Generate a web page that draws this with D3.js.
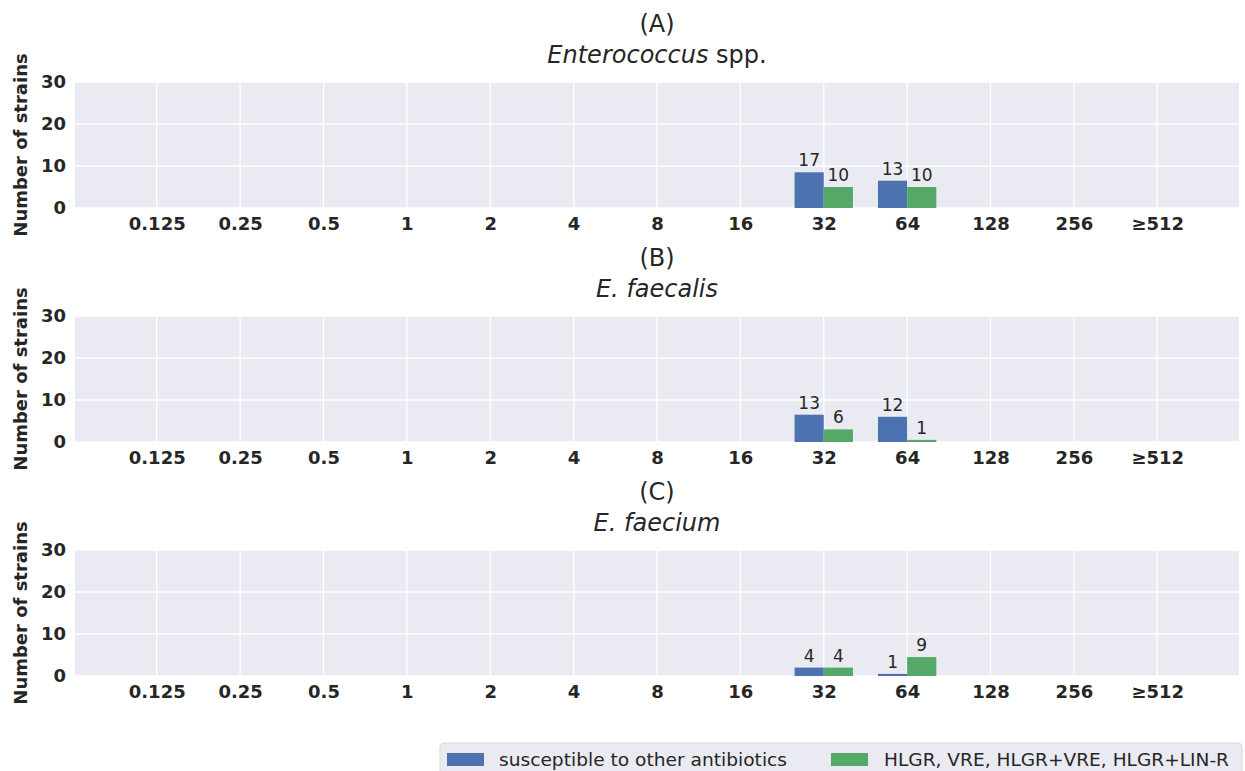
<!DOCTYPE html>
<html>
<head>
<meta charset="utf-8">
<script src="https://cdn.jsdelivr.net/npm/d3@7"></script>
<style>
  body { margin: 0; background: #fff; }
  text { font-family: "DejaVu Sans", sans-serif; }
</style>
</head>
<body>
<div id="chart"></div>
<script>
// MIC categories (x axis)
const categories = ['0.125', '0.25', '0.5', '1', '2', '4', '8', '16', '32', '64', '128', '256', '≥512'];
const yTicks = [0, 10, 20, 30];
const seriesNames = ['susceptible to other antibiotics', 'HLGR, VRE, HLGR+VRE, HLGR+LIN-R'];
const colors = ['#4C72B0', '#55A868'];

// strain counts per panel (label values); bars in the figure are drawn at half the count
const panelLetters = ['(A)', '(B)', '(C)'];
const panelTitles = [
  [{t: 'Enterococcus', i: true}, {t: ' spp.', i: false}],
  [{t: 'E. faecalis', i: true}],
  [{t: 'E. faecium', i: true}]
];
const susceptibleA = [0, 0, 0, 0, 0, 0, 0, 0, 17, 13, 0, 0, 0];
const resistantA   = [0, 0, 0, 0, 0, 0, 0, 0, 10, 10, 0, 0, 0];
const susceptibleB = [0, 0, 0, 0, 0, 0, 0, 0, 13, 12, 0, 0, 0];
const resistantB   = [0, 0, 0, 0, 0, 0, 0, 0, 6, 1, 0, 0, 0];
const susceptibleC = [0, 0, 0, 0, 0, 0, 0, 0, 4, 1, 0, 0, 0];
const resistantC   = [0, 0, 0, 0, 0, 0, 0, 0, 4, 9, 0, 0, 0];
const panels = [[susceptibleA, resistantA], [susceptibleB, resistantB], [susceptibleC, resistantC]];

const width = 1245, height = 771;
const plotLeft = 75, plotRight = 1239;
const panelTop = [82, 316, 550];
const plotH = 126;
const barW = 0.35;

const svg = d3.select('#chart').append('svg')
  .attr('width', width).attr('height', height);

const x = d3.scaleLinear()
  .domain([-0.98, categories.length - 0.02])
  .range([plotLeft, plotRight]);

panels.forEach((series, p) => {
  const top = panelTop[p];
  const y = d3.scaleLinear().domain([0, 30]).range([top + plotH, top]);
  const g = svg.append('g');

  g.append('rect')
    .attr('x', plotLeft).attr('y', top)
    .attr('width', plotRight - plotLeft).attr('height', plotH)
    .attr('fill', '#EAEAF2');

  // grid
  g.selectAll('.hgrid').data(yTicks).enter().append('line')
    .attr('x1', plotLeft).attr('x2', plotRight)
    .attr('y1', d => y(d)).attr('y2', d => y(d))
    .attr('stroke', '#fff').attr('stroke-width', 1.3);
  g.selectAll('.vgrid').data(categories).enter().append('line')
    .attr('x1', (d, i) => x(i)).attr('x2', (d, i) => x(i))
    .attr('y1', top).attr('y2', top + plotH)
    .attr('stroke', '#fff').attr('stroke-width', 1.3);

  // axes
  const yAxis = g.append('g')
    .attr('transform', 'translate(' + plotLeft + ',0)')
    .call(d3.axisLeft(y).tickValues(yTicks).tickSize(0).tickPadding(9));
  yAxis.select('.domain').remove();
  yAxis.selectAll('text').attr('font-size', 18).attr('font-weight', 'bold')
    .attr('fill', '#262626').attr('font-family', 'DejaVu Sans');

  const xAxis = g.append('g')
    .attr('transform', 'translate(0,' + (top + plotH) + ')')
    .call(d3.axisBottom(x).tickValues(d3.range(categories.length))
      .tickFormat(i => categories[i]).tickSize(0).tickPadding(9));
  xAxis.select('.domain').remove();
  xAxis.selectAll('text').attr('font-size', 18).attr('font-weight', 'bold')
    .attr('fill', '#262626').attr('font-family', 'DejaVu Sans');

  // bars
  series.forEach((vals, s) => {
    const data = vals.map((v, i) => ({v, i})).filter(d => d.v > 0);
    const x0 = d => x(d.i + (s === 0 ? -barW : 0));
    g.selectAll('.bar' + s).data(data).enter().append('rect')
      .attr('x', x0)
      .attr('y', d => y(d.v / 2))
      .attr('width', x(barW) - x(0))
      .attr('height', d => y(0) - y(d.v / 2))
      .attr('fill', colors[s]);
    g.selectAll('.lab' + s).data(data).enter().append('text')
      .attr('x', d => x0(d) + (x(barW) - x(0)) / 2)
      .attr('y', d => y(d.v / 2) - 6)
      .attr('text-anchor', 'middle')
      .attr('font-size', 17)
      .attr('fill', '#262626')
      .text(d => d.v);
  });

  // y label
  g.append('text')
    .attr('transform', 'translate(27,' + (top + plotH / 2) + ') rotate(-90)')
    .attr('text-anchor', 'middle')
    .attr('font-size', 18).attr('font-weight', 'bold').attr('fill', '#262626')
    .text('Number of strains');

  // titles
  const cx = (plotLeft + plotRight) / 2;
  g.append('text')
    .attr('x', cx).attr('y', top - 50)
    .attr('text-anchor', 'middle').attr('font-size', 24).attr('fill', '#262626')
    .text(panelLetters[p]);
  const t = g.append('text')
    .attr('x', cx).attr('y', top - 19)
    .attr('text-anchor', 'middle').attr('font-size', 24).attr('fill', '#262626');
  panelTitles[p].forEach(part => {
    t.append('tspan').attr('font-style', part.i ? 'italic' : 'normal').text(part.t);
  });
});

// legend
const leg = svg.append('g');
leg.append('rect')
  .attr('x', 440).attr('y', 743).attr('width', 802).attr('height', 40)
  .attr('rx', 4)
  .attr('fill', '#EAEAF2').attr('stroke', '#d8d8e0');
const legX = [447, 831];
const legText = [499, 884];
const legLen = [288, 345];
seriesNames.forEach((name, s) => {
  leg.append('rect')
    .attr('x', legX[s]).attr('y', 753).attr('width', 37).attr('height', 13)
    .attr('fill', colors[s]);
  leg.append('text')
    .attr('x', legText[s]).attr('y', 766)
    .attr('font-size', 18).attr('fill', '#262626')
    .attr('textLength', legLen[s])
    .attr('lengthAdjust', 'spacingAndGlyphs')
    .text(name);
});
</script>
</body>
</html>
